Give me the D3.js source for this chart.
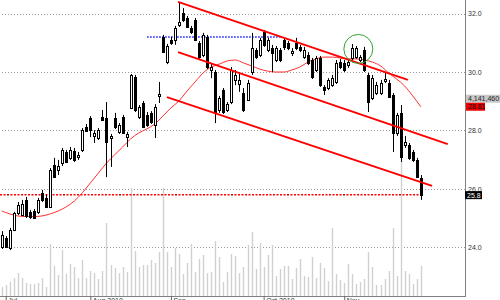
<!DOCTYPE html>
<html><head><meta charset="utf-8">
<script src="https://cdn.jsdelivr.net/npm/d3@7"></script>
<style>
html,body{margin:0;padding:0;background:#fff;overflow:hidden;}
svg{display:block;font-family:"Liberation Sans",Arial,sans-serif;}
</style></head><body>
<svg id="c" width="500" height="300"></svg>
<script>
// ---- data ----
const opens = [24.01,24.32,23.97,24.59,25.17,25.10,25.62,25.21,25.24,25.21,
25.86,25.69,25.38,26.82,26.64,26.88,27.26,27.06,27.29,27.09,
27.33,28.12,28.42,27.81,27.74,28.46,28.42,27.74,28.42,27.95,
28.46,27.77,28.77,29.83,28.46,28.94,28.53,28.60,28.18,29.18,
31.20,30.34,31.10,31.10,31.61,32.02,31.85,31.51,31.78,30.99,
30.58,31.20,30.07,30.00,28.70,29.38,28.70,28.97,29.73,29.59,
29.28,29.04,30.00,30.75,30.58,31.37,30.75,30.82,30.41,30.75,
31.10,30.99,30.65,30.99,30.86,30.51,30.58,30.41,30.07,30.48,
29.49,29.45,29.55,29.66,30.34,30.31,30.24,30.48,30.51,30.41,
30.75,29.90,29.11,29.28,29.28,29.69,29.62,29.21,27.91,28.60,
27.50,27.50,27.26,26.99,26.37];
const highs = [24.55,24.38,24.66,25.21,25.55,25.62,25.72,25.27,25.31,25.69,
25.96,25.79,26.71,27.06,26.99,27.40,27.33,27.43,27.40,27.26,
28.08,28.22,28.49,28.01,28.08,28.70,28.97,27.88,28.60,28.25,
28.53,27.95,29.93,29.90,28.87,29.01,28.63,28.66,28.90,29.66,
31.27,30.96,31.20,31.58,32.40,32.19,31.92,31.58,31.85,31.06,
31.34,31.27,30.27,30.07,29.18,29.45,28.97,30.17,30.07,30.00,
29.45,29.73,31.34,30.82,31.17,31.44,31.17,30.93,30.89,30.82,
31.17,31.06,30.82,31.17,30.93,30.86,30.68,30.48,30.55,30.55,
29.55,29.79,29.90,30.41,30.45,30.41,30.45,30.96,30.89,30.58,
30.86,29.97,29.90,29.66,29.73,29.97,29.73,29.28,28.60,28.87,
27.81,27.57,27.33,27.06,26.47];
const lows = [23.94,23.97,23.90,24.55,25.10,25.07,25.00,24.97,24.97,25.14,
25.55,25.34,25.34,26.37,26.47,26.78,26.88,26.99,26.92,26.99,
27.26,27.95,27.77,27.57,27.67,28.32,26.40,26.75,28.05,27.88,
27.88,27.43,28.73,28.63,28.39,28.08,28.12,28.22,27.74,28.94,
30.65,30.27,30.93,30.93,31.54,31.71,31.51,31.30,31.06,30.45,
30.51,30.10,29.79,28.25,28.60,28.56,28.63,28.90,29.55,29.32,
28.63,29.01,29.90,30.45,30.51,30.86,30.68,30.00,30.34,30.34,
30.75,30.75,30.55,30.75,30.68,30.45,30.24,29.76,30.00,29.49,
29.21,29.38,29.49,29.59,30.10,30.00,30.14,30.41,30.45,30.34,
30.00,28.63,29.04,29.21,29.21,29.62,29.11,27.26,27.81,26.92,
27.40,26.99,26.92,26.37,25.62];
const closes = [24.42,24.01,24.59,25.17,25.45,25.48,25.07,25.03,25.00,25.62,
25.62,25.38,26.64,26.40,26.78,27.33,26.92,27.33,26.99,27.16,
28.01,27.98,28.01,27.91,28.01,28.36,27.60,27.81,28.12,28.18,
27.91,27.88,29.90,28.70,28.80,28.12,28.18,28.29,28.80,29.25,
30.68,30.89,30.99,31.51,31.71,31.78,31.54,31.37,31.10,30.51,
31.27,30.17,30.17,28.60,29.11,28.63,28.90,30.07,29.90,29.73,
28.70,29.62,30.82,30.51,31.10,30.93,31.10,30.65,30.82,30.41,
30.86,30.82,30.72,30.82,30.75,30.75,30.31,29.83,30.48,29.55,
29.38,29.73,29.79,30.31,30.17,30.07,30.34,30.82,30.82,30.51,
30.07,28.97,29.79,29.55,29.62,29.76,29.14,27.91,28.53,27.09,
27.60,27.06,26.99,26.40,25.80];
// volume in thousands of shares
const volumes = [1242,1518,1932,2484,3174,2484,1794,1656,1656,1794,
2484,1242,7176,4140,2898,6348,3036,4416,4002,2484,
4968,2484,3450,3174,2346,3450,10074,4278,3864,3174,
4002,3312,14904,6210,4002,4278,4278,4968,4554,6072,
14904,6072,4002,6624,5796,3036,4554,7176,3312,5106,
5658,3174,3312,7590,5382,1932,3312,5796,5520,3174,
4002,7038,8832,3726,7314,4002,5658,7038,2760,3726,
4140,4140,2346,3864,5106,2760,2622,5382,2484,4554,
3864,2070,9384,3036,2208,1794,4416,3036,1656,1932,
2346,6072,4002,1518,1518,2346,3450,9384,2760,25668,
3450,3036,1656,2346,4141.46];
// moving average, sampled every 2nd bar (index 0,2,4,...)
const maValues = [25.24,25.14,25.07,25.05,25.05,25.07,25.14,25.24,25.38,25.58,
25.86,26.20,26.54,26.88,27.16,27.43,27.71,27.91,28.05,28.22,
28.49,28.77,29.01,29.35,29.66,29.97,30.17,30.27,30.38,30.41,
30.31,30.21,30.10,30.03,30.00,30.00,30.07,30.17,30.34,30.45,
30.51,30.51,30.48,30.45,30.45,30.41,30.34,30.21,29.97,29.76,
29.52,29.18,28.81];
const priceTicks = [24,26,28,30,32];
const dateTickIdx = [1,22,42,65,85];
const dateTickLabels = ["Jul","Aug 2010","Sep","Oct 2010","Nov"];
// trend channel lines
const trendStartIdx = [43.75,43.75,41.0];
const trendStartPrice = [32.40,30.68,29.14];
const trendEndIdx = [100.8,110.7,106.8];
const trendEndPrice = [29.73,27.53,26.10];
const resistanceLevel = 31.20, resistanceFromIdx = 36.1, resistanceToIdx = 69.6;
const lastPrice = 25.8, lastVolume = 4141460, lastMA = 28.81;
const circleIdx = 88.5, circlePrice = 30.79;

// ---- drawing ----
const plotRight = 465, plotBottom = 296;
const svg = d3.select('#c');
const n = closes.length;
const x = d3.scaleLinear().domain([0, n-1]).range([1.7, 420.8]);
const y = d3.scaleLinear().domain([24, 32]).range([247.2, 13.6]);
const yv = d3.scaleLinear().domain([0, 30000]).range([plotBottom, plotBottom - 30000/138.05]);
const px = i => Math.round(x(i));

// grid + right labels
const gy = svg.append('g').attr('transform', `translate(${plotRight},0)`)
  .call(d3.axisRight(y).tickValues(priceTicks).tickFormat(d3.format('.1f')).tickSize(-plotRight).tickPadding(3));
gy.select('.domain').remove();
gy.selectAll('line').attr('stroke', '#999').attr('stroke-dasharray', '1,2').attr('shape-rendering', 'crispEdges');
gy.selectAll('text').attr('font-size', 7).attr('fill', '#333').attr('font-family', 'Liberation Sans, Arial, sans-serif');

// volume
svg.append('g').selectAll('rect').data(volumes).join('rect')
  .attr('x', (d,i) => px(i) - 0.2).attr('width', 1.4)
  .attr('y', d => yv(d)).attr('height', d => plotBottom - yv(d))
  .attr('fill', '#d0d0d0');

// last price dotted line
svg.append('line').attr('x1', 0).attr('x2', x(n-1))
  .attr('y1', y(lastPrice)).attr('y2', y(lastPrice))
  .attr('stroke', '#ff0000').attr('stroke-width', 1.5).attr('stroke-dasharray', '2,1.5');

// blue resistance dotted line
svg.append('line').attr('x1', x(resistanceFromIdx)).attr('x2', x(resistanceToIdx))
  .attr('y1', y(resistanceLevel)).attr('y2', y(resistanceLevel))
  .attr('stroke', '#1010ff').attr('stroke-width', 1.5).attr('stroke-dasharray', '1.5,1.5');

// moving average
svg.append('path').datum(maValues)
  .attr('d', d3.line().x((d,k) => x(k*2)).y(d => y(d)).curve(d3.curveMonotoneX))
  .attr('fill', 'none').attr('stroke', '#ff3030').attr('stroke-width', 1);

// candles
const cg = svg.append('g');
const idx = d3.range(n);
cg.selectAll('line.w').data(idx).join('line')
  .attr('x1', i => px(i)+0.5).attr('x2', i => px(i)+0.5)
  .attr('y1', i => y(highs[i])).attr('y2', i => y(lows[i]))
  .attr('stroke', '#000').attr('stroke-width', 1);
cg.selectAll('rect').data(idx).join('rect')
  .attr('x', i => px(i) - 0.5).attr('width', 2)
  .attr('y', i => Math.round(y(Math.max(opens[i], closes[i]))) + 0.5)
  .attr('height', i => Math.max(1, Math.round(y(Math.min(opens[i], closes[i]))) - Math.round(y(Math.max(opens[i], closes[i])))))
  .attr('fill', i => closes[i] >= opens[i] ? '#fff' : '#000')
  .attr('stroke', '#000').attr('stroke-width', 1);

// trend channel
svg.append('g').selectAll('line').data(trendStartIdx).join('line')
  .attr('x1', (d,k) => x(trendStartIdx[k])).attr('y1', (d,k) => y(trendStartPrice[k]))
  .attr('x2', (d,k) => x(trendEndIdx[k])).attr('y2', (d,k) => y(trendEndPrice[k]))
  .attr('stroke', '#ff0000').attr('stroke-width', 2);

// highlight circle
svg.append('circle').attr('cx', x(circleIdx)).attr('cy', y(circlePrice)).attr('r', 14.5)
  .attr('fill', 'none').attr('stroke', '#33a333').attr('stroke-width', 1);

// frame
svg.append('line').attr('x1', plotRight+0.5).attr('x2', plotRight+0.5).attr('y1', 0).attr('y2', plotBottom+1)
  .attr('stroke', '#808080');
const gx = svg.append('g').attr('transform', `translate(0,${plotBottom})`)
  .call(d3.axisBottom(x).tickValues(dateTickIdx).tickFormat((d,k) => dateTickLabels[k]).tickSize(4).tickPadding(-2).tickSizeOuter(0));
gx.select('.domain').attr('stroke', '#808080').attr('d', `M0,0.5H${plotRight}`);
gx.selectAll('line').attr('stroke', '#666');
gx.selectAll('text').attr('font-size', 7).attr('fill', '#333').attr('text-anchor', 'start').attr('dx', 2)
  .attr('font-family', 'Liberation Sans, Arial, sans-serif');

// right-side value tags
const fmtInt = d3.format(',');
const yMA = y(lastMA);
const tags = [
  {text: fmtInt(lastVolume), y: yMA - 12, w: 34, fill: '#c8c8c8', color: '#222', x: 466},
  {text: d3.format('.2f')(lastMA), y: yMA - 4, w: 19, fill: '#ee0000', color: '#111', x: 466},
  {text: d3.format('.1f')(lastPrice), y: y(lastPrice) - 3.5, w: 17, fill: '#000', color: '#fff', x: 465}
];
const tg = svg.append('g').selectAll('g').data(tags).join('g');
tg.append('rect').attr('x', d => d.x).attr('y', d => d.y).attr('width', d => d.w).attr('height', 8).attr('fill', d => d.fill);
tg.append('text').attr('x', d => d.x + 2).attr('y', d => d.y + 6.6).attr('font-size', 7)
  .attr('fill', d => d.color).text(d => d.text);
</script>
</body></html>
